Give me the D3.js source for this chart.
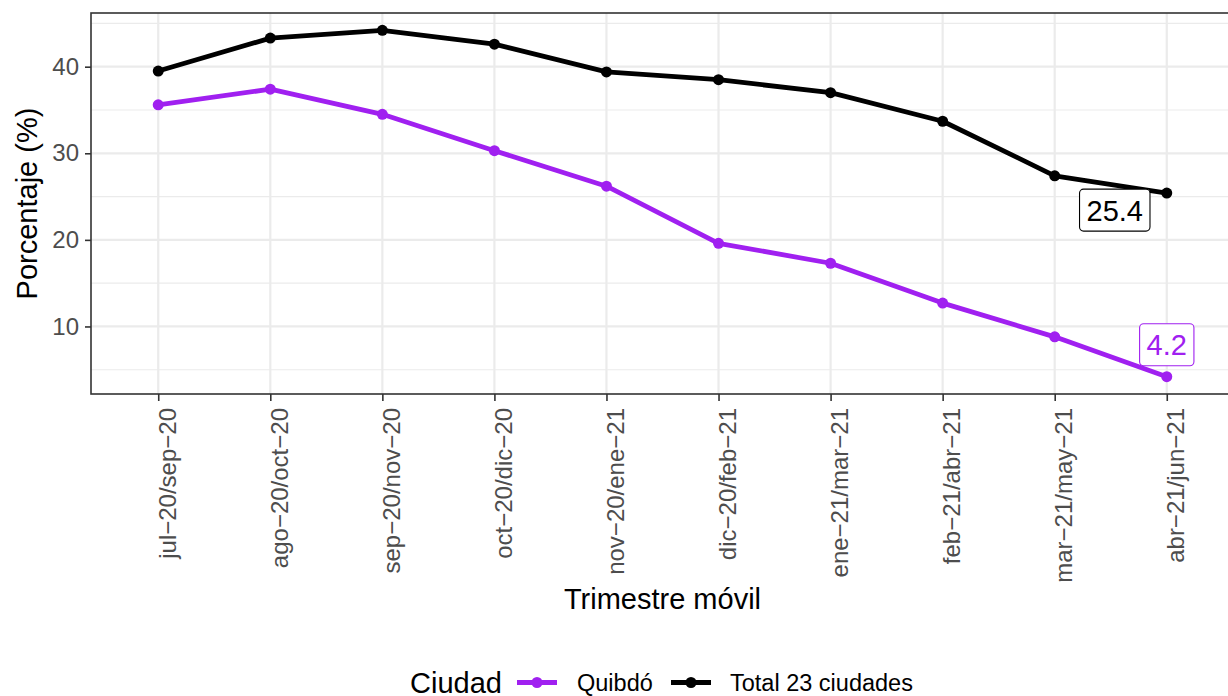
<!DOCTYPE html>
<html>
<head>
<meta charset="utf-8">
<script src="https://cdn.jsdelivr.net/npm/d3@7"></script>
<style>
  html, body { margin: 0; padding: 0; background: #fff; }
  svg { display: block; font-family: "Liberation Sans", Arial, Helvetica, sans-serif; }
</style>
</head>
<body>
<svg id="chart" width="1228" height="696"></svg>
<script>
// ---- data ----
const categories = ["jul−20/sep−20","ago−20/oct−20","sep−20/nov−20","oct−20/dic−20","nov−20/ene−21",
                    "dic−20/feb−21","ene−21/mar−21","feb−21/abr−21","mar−21/may−21","abr−21/jun−21"];
const quibdo = [35.6, 37.4, 34.5, 30.3, 26.2, 19.6, 17.3, 12.7, 8.8, 4.2];
const total23 = [39.5, 43.3, 44.2, 42.6, 39.4, 38.5, 37.0, 33.7, 27.4, 25.4];
const seriesNames = ["Quibdó", "Total 23 ciudades"];
const seriesColors = ["#A020F0", "#000000"];
const yTicks = [10, 20, 30, 40];
const yMinor = [5, 15, 25, 35, 45];

// ---- layout ----
const svg = d3.select("#chart");
const panel = {left: 91, right: 1234, top: 13, bottom: 394};
const FONT = '"Liberation Sans", Arial, sans-serif';

const allVals = quibdo.concat(total23);
const lo = d3.min(allVals), hi = d3.max(allVals), pad = (hi - lo) * 0.05;
const y = d3.scaleLinear().domain([lo - pad, hi + pad]).range([panel.bottom, panel.top]);
const x = d3.scalePoint().domain(categories).range([panel.left, panel.right]).padding(0.6);

// grid
const g = svg.append("g");
g.selectAll(".minor").data(yMinor.filter(v => y(v) > panel.top && y(v) < panel.bottom)).enter()
  .append("line").attr("x1", panel.left).attr("x2", panel.right)
  .attr("y1", d => y(d)).attr("y2", d => y(d))
  .attr("stroke", "#EBEBEB").attr("stroke-width", 1.2);
g.selectAll(".major").data(yTicks).enter()
  .append("line").attr("x1", panel.left).attr("x2", panel.right)
  .attr("y1", d => y(d)).attr("y2", d => y(d))
  .attr("stroke", "#EBEBEB").attr("stroke-width", 2.2);
g.selectAll(".vmajor").data(categories).enter()
  .append("line").attr("y1", panel.top).attr("y2", panel.bottom)
  .attr("x1", d => x(d)).attr("x2", d => x(d))
  .attr("stroke", "#EBEBEB").attr("stroke-width", 2.2);

// series
const series = [quibdo, total23];
const line = d3.line().x((d, i) => x(categories[i])).y(d => y(d));
series.forEach((vals, si) => {
  svg.append("path").datum(vals).attr("d", line)
    .attr("fill", "none").attr("stroke", seriesColors[si]).attr("stroke-width", 4.8)
    .attr("stroke-linejoin", "round");
  svg.selectAll(".pt" + si).data(vals).enter().append("circle")
    .attr("cx", (d, i) => x(categories[i])).attr("cy", d => y(d)).attr("r", 5.5)
    .attr("fill", seriesColors[si]);
});

// panel border
svg.append("rect").attr("x", panel.left).attr("y", panel.top)
  .attr("width", panel.right - panel.left).attr("height", panel.bottom - panel.top)
  .attr("fill", "none").attr("stroke", "#333333").attr("stroke-width", 1.6);

// y axis
const yAxis = svg.append("g").attr("transform", `translate(${panel.left},0)`)
  .call(d3.axisLeft(y).tickValues(yTicks).tickSize(6).tickPadding(6).tickFormat(d3.format("d")));
yAxis.select(".domain").remove();
yAxis.selectAll("line").attr("stroke", "#333333").attr("stroke-width", 1.6);
yAxis.selectAll("text").attr("fill", "#4D4D4D").style("font-size", "24px").style("font-family", FONT);

// x axis
const xAxis = svg.append("g").attr("transform", `translate(0,${panel.bottom})`)
  .call(d3.axisBottom(x).tickSize(7).tickPadding(0));
xAxis.select(".domain").remove();
xAxis.selectAll("line").attr("stroke", "#333333").attr("stroke-width", 1.6);
xAxis.selectAll("text")
  .attr("fill", "#4D4D4D").style("font-size", "24px").style("font-family", FONT)
  .attr("text-anchor", "end")
  .attr("transform", "translate(-1,14) rotate(-90)")
  .attr("x", 0).attr("y", 0).attr("dy", "0.74em");

// axis titles
svg.append("text").attr("x", (panel.left + panel.right) / 2).attr("y", 609)
  .attr("text-anchor", "middle").style("font-size", "29px").attr("fill", "#000")
  .text("Trimestre móvil");
svg.append("text").attr("transform", `translate(37,${(panel.top + panel.bottom) / 2}) rotate(-90)`)
  .attr("text-anchor", "middle").style("font-size", "29px").attr("fill", "#000")
  .text("Porcentaje (%)");

// end labels
const lastIdx = categories.length - 1;
const labelOffsets = [[0, -32], [-52, 17]];
series.forEach((vals, si) => {
  const v = vals[lastIdx];
  const cx = x(categories[lastIdx]) + labelOffsets[si][0];
  const cy = y(v) + labelOffsets[si][1];
  const lg = svg.append("g");
  const t = lg.append("text").attr("x", cx).attr("y", cy).attr("dy", "0.36em")
    .attr("text-anchor", "middle").style("font-size", "29px").attr("fill", seriesColors[si])
    .text(d3.format(".1f")(v));
  const bb = t.node().getBBox();
  lg.insert("rect", "text").attr("x", bb.x - 7).attr("y", cy - 21)
    .attr("width", bb.width + 14).attr("height", 42).attr("rx", 4).attr("ry", 4)
    .attr("fill", "#fff").attr("stroke", seriesColors[si]).attr("stroke-width", 1.1);
});

// legend
const leg = svg.append("g");
leg.append("text").attr("x", 410).attr("y", 693).style("font-size", "29px").attr("fill", "#000").text("Ciudad");
const keyX = [517, 671];
const labX = [577, 730];
seriesNames.forEach((name, si) => {
  leg.append("line").attr("x1", keyX[si]).attr("x2", keyX[si] + 40).attr("y1", 682.5).attr("y2", 682.5)
    .attr("stroke", seriesColors[si]).attr("stroke-width", 4.8);
  leg.append("circle").attr("cx", keyX[si] + 20).attr("cy", 682.5).attr("r", 5.5).attr("fill", seriesColors[si]);
  leg.append("text").attr("x", labX[si]).attr("y", 691).style("font-size", "23.5px").attr("fill", "#000").text(name);
});
</script>
</body>
</html>
